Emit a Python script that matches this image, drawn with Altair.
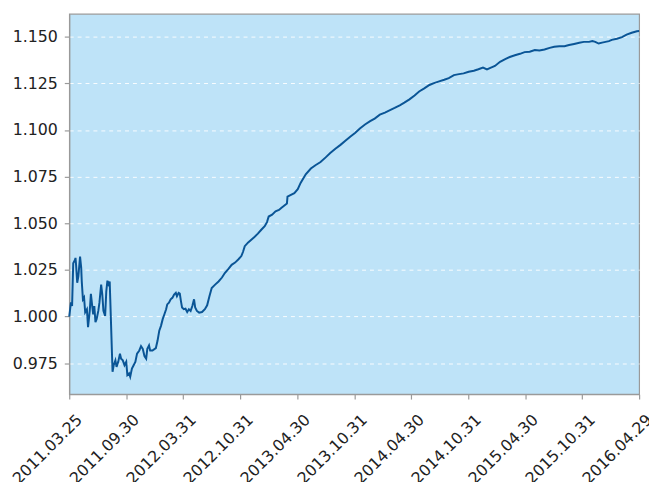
import altair as alt
import pandas as pd

# trading-day index (0..1000 across the full period) and net value
day_index = [0, 3, 5, 7, 10, 11, 12, 14, 16, 19, 21, 22, 24, 26, 28, 31, 33, 36, 38, 40,
             42, 44, 46, 48, 51, 53, 56, 58, 60, 63, 65, 67, 70, 71, 72, 74, 76, 78, 81, 83,
             86, 89, 91, 94, 97, 100, 102, 105, 107, 110, 113, 116, 119, 123, 126, 129, 132, 135, 137, 140,
             142, 146, 152, 155, 158, 161, 164, 167, 170, 172, 175, 178, 181, 184, 187, 189, 192, 194, 196, 198,
             201, 204, 207, 210, 213, 216, 219, 221, 224, 228, 233, 238, 242, 246, 250, 256, 262, 268, 273, 279,
             285, 291, 297, 302, 305, 308, 314, 320, 325, 331, 337, 343, 347, 350, 356, 362, 368, 372, 377, 382,
             383, 389, 395, 401, 406, 415, 424, 432, 441, 450, 458, 467, 476, 484, 493, 502, 510, 519, 528, 536,
             545, 554, 562, 571, 580, 588, 597, 606, 614, 623, 632, 640, 649, 658, 666, 675, 684, 692, 701, 710,
             718, 726, 733, 740, 747, 756, 765, 773, 782, 791, 799, 808, 817, 825, 834, 843, 851, 860, 869, 877,
             886, 895, 903, 912, 918, 923, 929, 935, 941, 947, 952, 961, 970, 978, 987, 996, 1000]
nav = [1.0000, 1.0076, 1.0056, 1.0286, 1.0303, 1.0314, 1.0277, 1.0181, 1.0215, 1.0321, 1.0261, 1.0188, 1.0092, 1.0102, 1.0023, 1.0039, 0.9943, 1.0030, 1.0122, 1.0065,
       1.0012, 1.0056, 0.9970, 0.9986, 1.0030, 1.0074, 1.0171, 1.0118, 1.0030, 1.0003, 1.0135, 1.0192, 1.0162, 1.0188, 1.0092, 0.9897, 0.9704, 0.9739, 0.9765, 0.9730,
       0.9757, 0.9801, 0.9774, 0.9765, 0.9739, 0.9757, 0.9686, 0.9695, 0.9677, 0.9721, 0.9739, 0.9757, 0.9801, 0.9818, 0.9841, 0.9827, 0.9788, 0.9774, 0.9827, 0.9845,
       0.9818, 0.9818, 0.9831, 0.9871, 0.9924, 0.9950, 0.9986, 1.0012, 1.0039, 1.0065, 1.0074, 1.0092, 1.0100, 1.0118, 1.0127, 1.0109, 1.0127, 1.0123, 1.0083, 1.0048,
       1.0039, 1.0042, 1.0024, 1.0039, 1.0030, 1.0056, 1.0092, 1.0048, 1.0030, 1.0021, 1.0024, 1.0039, 1.0060, 1.0109, 1.0153, 1.0171, 1.0188, 1.0209, 1.0233, 1.0254,
       1.0277, 1.0289, 1.0307, 1.0324, 1.0347, 1.0377, 1.0397, 1.0413, 1.0426, 1.0444, 1.0465, 1.0484, 1.0506, 1.0536, 1.0546, 1.0564, 1.0571, 1.0582, 1.0594, 1.0606,
       1.0642, 1.0652, 1.0661, 1.0682, 1.0716, 1.0762, 1.0793, 1.0811, 1.0828, 1.0853, 1.0876, 1.0899, 1.0920, 1.0941, 1.0964, 1.0985, 1.1008, 1.1029, 1.1047, 1.1061,
       1.1082, 1.1093, 1.1105, 1.1118, 1.1132, 1.1146, 1.1164, 1.1185, 1.1206, 1.1223, 1.1241, 1.1251, 1.1260, 1.1269, 1.1278, 1.1294, 1.1299, 1.1303, 1.1312, 1.1317,
       1.1325, 1.1334, 1.1324, 1.1334, 1.1343, 1.1365, 1.1380, 1.1391, 1.1400, 1.1408, 1.1417, 1.1419, 1.1428, 1.1426, 1.1431, 1.1440, 1.1446, 1.1449, 1.1449, 1.1455,
       1.1461, 1.1467, 1.1472, 1.1472, 1.1476, 1.1472, 1.1463, 1.1468, 1.1472, 1.1476, 1.1483, 1.1489, 1.1497, 1.1511, 1.1521, 1.1529, 1.1530]

tick_labels = ["2011.03.25", "2011.09.30", "2012.03.31", "2012.10.31", "2013.04.30", "2013.10.31",
               "2014.04.30", "2014.10.31", "2015.04.30", "2015.10.31", "2016.04.29"]
tick_positions = [0, 100, 200, 300, 400, 500, 600, 700, 800, 900, 1000]
y_ticks = [0.975, 1.000, 1.025, 1.050, 1.075, 1.100, 1.125, 1.150]

df = pd.DataFrame({"idx": day_index, "nav": nav})

label_expr = "[" + ",".join("'" + s + "'" for s in tick_labels) + "][round(datum.value / 100)]"

FONT = "DejaVu Sans"
TEXT = "#222222"
AXIS_GRAY = "#9a9a9a"

chart = alt.Chart(df).mark_line(color="#0a5596", strokeWidth=2).encode(
    x=alt.X("idx:Q",
            scale=alt.Scale(domain=[0, 1000], nice=False, zero=False),
            axis=alt.Axis(values=tick_positions, labelExpr=label_expr, title=None,
                          grid=False, labelAngle=-45, labelAlign="right", labelBaseline="middle",
                          labelOffset=10, labelPadding=18, tickSize=5,
                          labelOverlap=False, labelBound=False, labelFlush=False)),
    y=alt.Y("nav:Q",
            scale=alt.Scale(domain=[0.9584, 1.1622], nice=False, zero=False),
            axis=alt.Axis(values=y_ticks, format=".3f", title=None, grid=True,
                          gridColor="white", gridDash=[4, 4], gridWidth=1, gridOpacity=0.9,
                          tickSize=5, labelPadding=7)),
).properties(
    width=577, height=385,
    autosize="none",
    background="white",
    padding={"left": 62, "top": 3, "right": 10, "bottom": 86},
).configure_view(
    fill="#bee3f8", stroke=AXIS_GRAY, strokeWidth=1.2,
).configure_axis(
    labelFont=FONT, labelFontSize=16, labelColor=TEXT,
    domainColor=AXIS_GRAY, domainWidth=1.2, tickColor=AXIS_GRAY, tickWidth=1.2,
)

chart.save("out.html", embed_options={"renderer": "svg", "actions": False})
